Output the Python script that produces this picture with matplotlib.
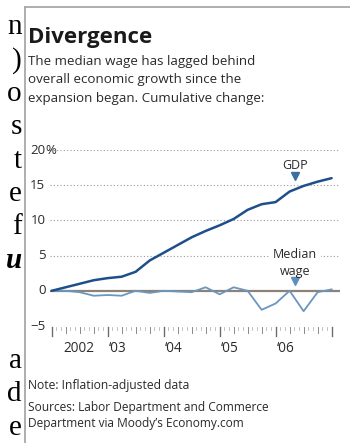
import matplotlib
matplotlib.use("Agg")
import matplotlib.pyplot as plt
from matplotlib.lines import Line2D
from matplotlib import font_manager as fm

# ---- data ----
periods = ["2002Q1","2002Q2","2002Q3","2002Q4","2003Q1","2003Q2","2003Q3","2003Q4",
           "2004Q1","2004Q2","2004Q3","2004Q4","2005Q1","2005Q2","2005Q3","2005Q4",
           "2006Q1","2006Q2","2006Q3","2006Q4","2007Q1"]
gdp = [0, 0.5, 1.0, 1.5, 1.8, 2.0, 2.7, 4.3, 5.4, 6.5, 7.6, 8.5, 9.3, 10.2, 11.5,
       12.3, 12.6, 14.1, 14.9, 15.5, 16.0]
median_wage = [0, 0, -0.2, -0.7, -0.6, -0.7, 0, -0.3, 0, -0.1, -0.2, 0.5, -0.5, 0.5,
               0, -2.7, -1.8, 0, -2.9, -0.2, 0.2]
y_ticks = [20, 15, 10, 5, 0, -5]
year_labels = ["2002", "\u201803", "\u201804", "\u201805", "\u201806"]
year_starts = [0, 4, 8, 12, 16]

W, H = 350, 443
fig = plt.figure(figsize=(W/100, H/100), dpi=100)
fig.patch.set_facecolor("white")

def P(x, y):
    return (x / W, 1 - y / H)

# use a condensed face if one is installed, else Open Sans
names = {f.name for f in fm.fontManager.ttflist}
cond = [f for f in fm.fontManager.ttflist
        if f.name in ("DejaVu Sans", "Liberation Sans Narrow")
        and str(f.stretch) in ("condensed", "semi-condensed", "500", "75", "87")]
CONDENSED = len(cond) > 0
SANS = ["Open Sans", "DejaVu Sans"]
TXT = "#2a2a2a"

# ---- frame lines of the graphic box ----
fig.add_artist(Line2D([25/W, 25/W], [0, 1 - 7/H], color="#a8a8a8", lw=1.3,
                      transform=fig.transFigure))
fig.add_artist(Line2D([25/W, 1], [1 - 7/H, 1 - 7/H], color="#a8a8a8", lw=1.3,
                      transform=fig.transFigure))

# ---- cropped page text on the left ----
left_letters = ["n", ")", "o", "s", "t", "e", "f", "u", "", "", "a", "d", "e"]
for k, ch in enumerate(left_letters):
    if not ch:
        continue
    kw = dict(fontweight="bold", fontstyle="italic") if ch == "u" else {}
    fig.text(*P(22, 34 + 33.4 * k), ch, ha="right", va="baseline",
             family="Liberation Serif", fontsize=21, color="black", **kw)

# ---- titles ----
fig.text(*P(28, 43), "Divergence", ha="left", va="baseline", family=SANS,
         fontsize=16, fontweight="bold", color="#1a1a1a")
subtitle = ["The median wage has lagged behind",
            "overall economic growth since the",
            "expansion began. Cumulative change:"]
for i, s in enumerate(subtitle):
    fig.text(*P(28, 65 + 18.5 * i), s, ha="left", va="baseline", family=SANS,
             fontsize=9.6, color=TXT)

# ---- axes ----
ax = fig.add_axes([50/W, (H-326)/H, 290/W, 176/H])
ax.set_xlim(-0.12, 20.6)
ax.set_ylim(-5, 20)
ax.axis("off")

for v in y_ticks:
    if v == 0:
        continue
    ax.axhline(v, color="#9a9a9a", lw=0.8, ls=(0, (1, 2)), zorder=1)
ax.axhline(0, color="#8c8275", lw=1.6, zorder=2)

x = list(range(len(periods)))
ax.plot(x, gdp, color="#1f4f8b", lw=1.8, zorder=4, solid_capstyle="round")
ax.plot(x, median_wage, color="#6a96c0", lw=1.3, zorder=3)

# y labels
for v in y_ticks:
    lab = "\u22125" if v < 0 else str(v)
    ax.text(-0.45, v, lab, ha="right", va="center", family=SANS, fontsize=9.5,
            color=TXT, transform=ax.transData, clip_on=False)
ax.text(-0.45, 20, "%", ha="left", va="center", family=SANS, fontsize=9.5,
        color=TXT, clip_on=False)

# x ticks: monthly small, quarterly medium, tall at year starts
n_months = (len(periods) - 1) * 3
for m in range(n_months + 1):
    q = m / 3
    if m % 12 == 0:
        ln, lw, c = 1.45, 1.0, "#6e6e6e"
    elif m % 3 == 0:
        ln, lw, c = 0.95, 0.7, "#8a8a8a"
    else:
        ln, lw, c = 0.55, 0.5, "#a5a5a5"
    ax.plot([q, q], [-5.15, -5 - ln], color=c, lw=lw, clip_on=False, zorder=3)
for lab, q in zip(year_labels, year_starts):
    xx = q + (0.8 if q == 0 else 0.1)
    ax.text(xx, -7.2, lab, ha="left", va="top", family=SANS, fontsize=9.8,
            color=TXT, clip_on=False)

# annotations
ax.text(17.4, 17.3, "GDP", ha="center", va="baseline", family=SANS,
        fontsize=9, color=TXT)
ax.plot([17.4], [16.3], marker="v", ms=6, color="#3a6fa2", ls="none", zorder=5)
ax.text(17.4, 4.7, "Median", ha="center", va="baseline", family=SANS,
        fontsize=9, color=TXT, zorder=6,
        bbox=dict(facecolor="white", edgecolor="none", pad=2.5))
ax.text(17.4, 2.3, "wage", ha="center", va="baseline", family=SANS,
        fontsize=9, color=TXT, zorder=6)
ax.plot([17.4], [1.4], marker="v", ms=6, color="#5e8fbf", ls="none", zorder=5)

# ---- notes ----
fig.text(*P(28, 389), "Note: Inflation-adjusted data", ha="left", va="baseline",
         family=SANS, fontsize=8.7, color=TXT)
fig.text(*P(28, 411), "Sources: Labor Department and Commerce", ha="left",
         va="baseline", family=SANS, fontsize=8.6, color=TXT)
fig.text(*P(28, 427), "Department via Moody\u2019s Economy.com", ha="left",
         va="baseline", family=SANS, fontsize=8.6, color=TXT)

fig.savefig("out.png", dpi=100, facecolor="white")
